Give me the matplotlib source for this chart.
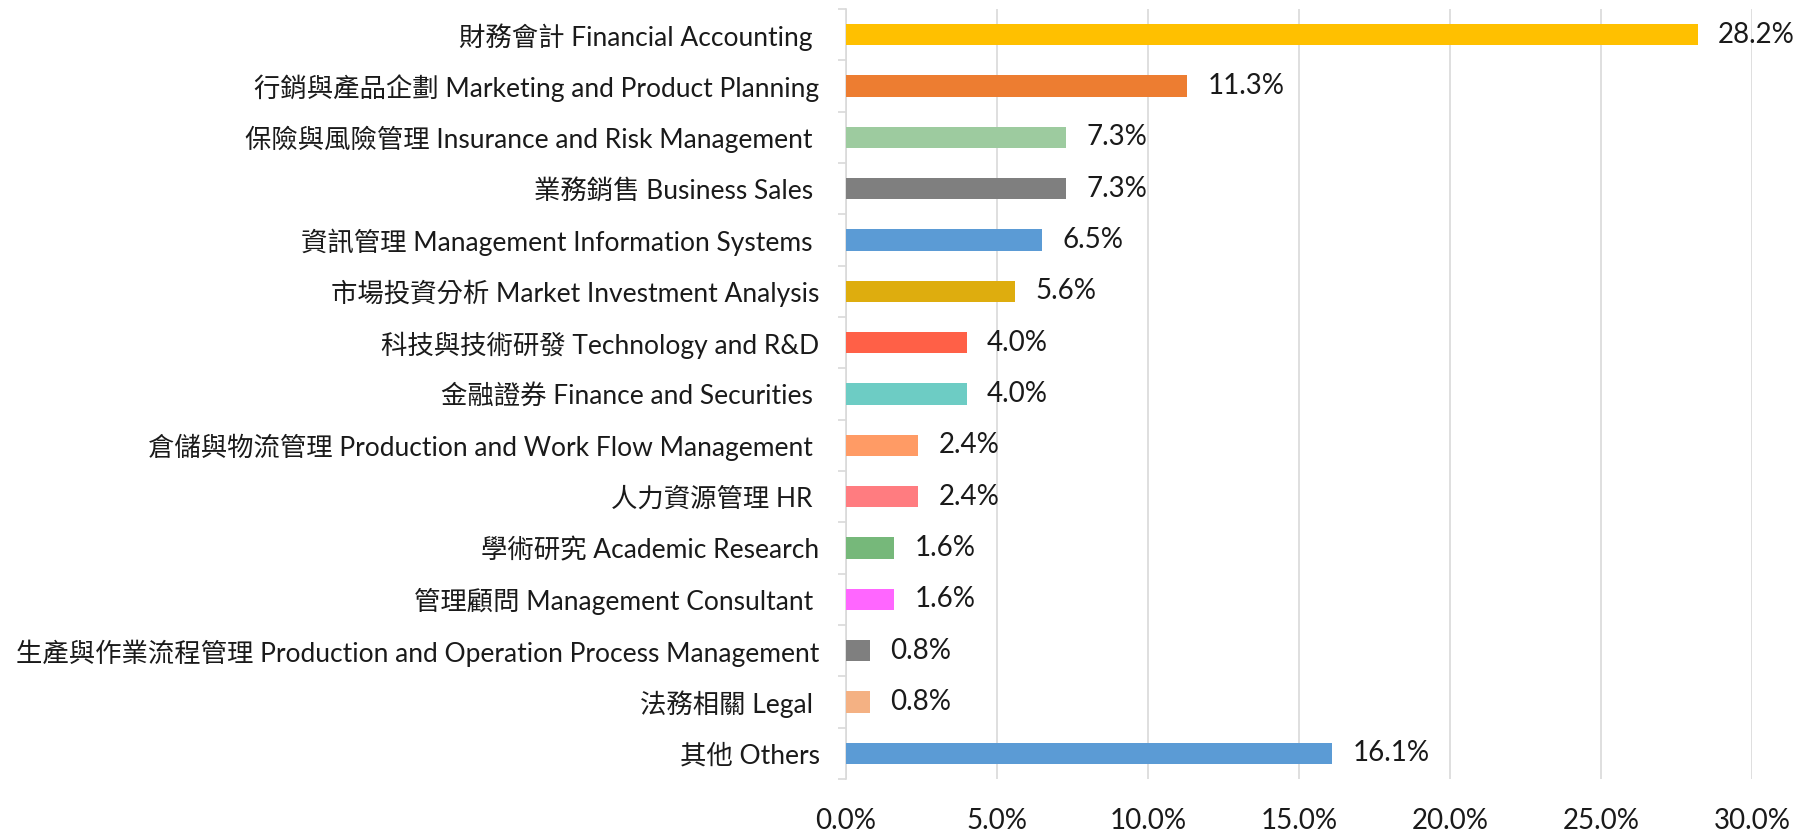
import matplotlib
matplotlib.use("Agg")
import matplotlib.pyplot as plt
from matplotlib.ticker import FixedLocator

plt.rcParams['font.family'] = ['Lato', 'Noto Sans CJK TC', 'DejaVu Sans']

categories = [
    "財務會計 Financial Accounting ",
    "行銷與產品企劃 Marketing and Product Planning",
    "保險與風險管理 Insurance and Risk Management ",
    "業務銷售 Business Sales ",
    "資訊管理 Management Information Systems ",
    "市場投資分析 Market Investment Analysis",
    "科技與技術研發 Technology and R&D",
    "金融證券 Finance and Securities ",
    "倉儲與物流管理 Production and Work Flow Management ",
    "人力資源管理 HR ",
    "學術研究 Academic Research",
    "管理顧問 Management Consultant ",
    "生產與作業流程管理 Production and Operation Process Management",
    "法務相關 Legal ",
    "其他 Others",
]
values = [28.2, 11.3, 7.3, 7.3, 6.5, 5.6, 4.0, 4.0, 2.4, 2.4, 1.6, 1.6, 0.8, 0.8, 16.1]
colors = ["#FFC000", "#ED7D31", "#9DCB9F", "#7F7F7F", "#5B9BD5", "#DEAD0E",
          "#FF6047", "#6DCCC4", "#FF9B65", "#FF7C80", "#76B87A", "#FF66FF",
          "#7F7F7F", "#F4B183", "#5B9BD5"]
xticks = [0, 5, 10, 15, 20, 25, 30]

fig = plt.figure(figsize=(18.1, 8.35), dpi=100)
ax = fig.add_axes([846/1810, 1-779/835, (1752-846)/1810, (779-9)/835])

n = len(categories)
ypos = list(range(n))
ax.barh(ypos, values, height=0.41, color=colors, zorder=3)
for y, v in zip(ypos, values):
    ax.annotate(f"{v:.1f}%", (v, y), xytext=(14.4, 0), textcoords="offset points",
                ha="left", va="center", fontsize=20, color="#1a1a1a", zorder=4)

ax.set_ylim(n - 0.5, -0.5)
ax.set_xlim(0, 30)
ax.set_yticks(ypos)
ax.set_yticklabels(categories, fontsize=19, color="#1a1a1a")
ax.yaxis.set_minor_locator(FixedLocator([i - 0.5 for i in range(n + 1)]))
ax.tick_params(axis='y', which='major', length=0, pad=19)
ax.tick_params(axis='y', which='minor', length=6, color="#D9D9D9", width=1.2)
ax.set_xticks(xticks)
ax.set_xticklabels([f"{t:.1f}%" for t in xticks], fontsize=20, color="#1a1a1a")
ax.tick_params(axis='x', length=0, pad=21)
ax.grid(axis='x', color="#D9D9D9", linewidth=1.2, zorder=0)
for s in ["top", "right", "bottom"]:
    ax.spines[s].set_visible(False)
ax.spines["left"].set_color("#D9D9D9")
ax.spines["left"].set_linewidth(1.2)

fig.savefig("out.png", dpi=100)
